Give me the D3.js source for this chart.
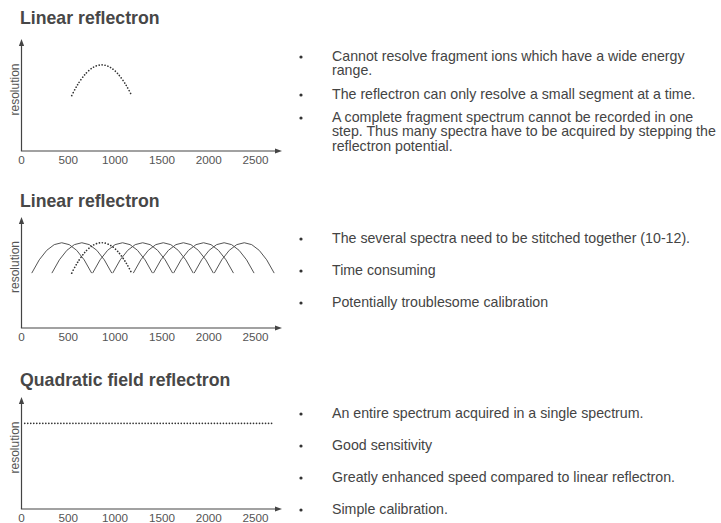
<!DOCTYPE html>
<html>
<head>
<meta charset="utf-8">
<script src="https://cdn.jsdelivr.net/npm/d3@7"></script>
<style>
  html, body { margin: 0; padding: 0; background: #fff; }
  svg { display: block; font-family: "Liberation Sans", Arial, Helvetica, sans-serif; }
</style>
</head>
<body>
<svg id="chart" width="721" height="523"></svg>
<script>
// ---- data ----------------------------------------------------------------
const panelTitles = ["Linear reflectron", "Linear reflectron", "Quadratic field reflectron"];
const xTicks = [0, 500, 1000, 1500, 2000, 2500];
const yLabel = "resolution";

// resolution profile of one reflectron setting (m/z window)
const resolutionBase = 56;
const resolutionPeak = 87;
const singleWindow = [542, 1182];
// stepped reflectron potential: successive m/z windows
const steppedWindows = [
  [115, 755], [330, 970], [765, 1405], [980, 1620], [1200, 1840],
  [1415, 2055], [1630, 2270], [1850, 2490], [2065, 2705]
];
// quadratic field: flat resolution over the whole range
const quadraticRange = [40, 2700];
const quadraticResolution = 86.5;

const bullets = [
  [
    ["Cannot resolve fragment ions which have a wide energy", "range."],
    ["The reflectron can only resolve a small segment at a time."],
    ["A complete fragment spectrum cannot be recorded in one",
     "step. Thus many spectra have to be acquired by stepping the",
     "reflectron potential."]
  ],
  [
    ["The several spectra need to be stitched together (10-12)."],
    ["Time consuming"],
    ["Potentially troublesome calibration"]
  ],
  [
    ["An entire spectrum acquired in a single spectrum."],
    ["Good sensitivity"],
    ["Greatly enhanced speed compared to linear reflectron."],
    ["Simple calibration."]
  ]
];

// ---- layout --------------------------------------------------------------
const panels = [
  { titleY: 24,  top: 40,  bottom: 151, bulletY: [56, 94, 117] },
  { titleY: 207, top: 218, bottom: 328, bulletY: [238, 270, 302] },
  { titleY: 386, top: 398, bottom: 509, bulletY: [413, 445, 477, 509] }
];
const axisX = 21.5, axisEndX = 282;
const textColor = "#444";
const lineColor = "#444";

const svg = d3.select("#chart");
const x = d3.scaleLinear().domain([0, 2500]).range([21, 255]);

function archPath(win, y) {
  const p = d3.path();
  const x0 = x(win[0]), x1 = x(win[1]);
  const yb = y(resolutionBase), yp = y(resolutionPeak);
  p.moveTo(x0, yb);
  p.quadraticCurveTo((x0 + x1) / 2, 2 * yp - yb, x1, yb);
  return p.toString();
}

panels.forEach((pn, i) => {
  const g = svg.append("g");
  const y = d3.scaleLinear().domain([0, 100]).range([pn.bottom, pn.top + 12]);

  // title
  g.append("text")
    .attr("x", 20).attr("y", pn.titleY)
    .attr("font-size", 17.7).attr("font-weight", "bold")
    .attr("fill", "#474747")
    .text(panelTitles[i]);

  // x tick labels
  const ax = d3.axisBottom(x).tickValues(xTicks).tickSize(0).tickPadding(5)
    .tickFormat(d3.format("d"));
  const axg = g.append("g").attr("transform", `translate(0,${pn.bottom})`).call(ax);
  axg.select(".domain").remove();
  axg.selectAll("text").attr("font-size", 11.7).attr("fill", "#555")
    .attr("font-family", "Liberation Sans, Arial, sans-serif");

  // axes lines with arrows
  g.append("line").attr("x1", axisX).attr("x2", axisX)
    .attr("y1", pn.bottom).attr("y2", pn.top + 4)
    .attr("stroke", lineColor).attr("stroke-width", 1.2);
  g.append("path")
    .attr("d", `M${axisX},${pn.top - 1}L${axisX - 2.6},${pn.top + 6}L${axisX + 2.6},${pn.top + 6}Z`)
    .attr("fill", lineColor);
  g.append("line").attr("x1", axisX - 0.6).attr("x2", axisEndX - 4)
    .attr("y1", pn.bottom).attr("y2", pn.bottom)
    .attr("stroke", lineColor).attr("stroke-width", 1.2);
  g.append("path")
    .attr("d", `M${axisEndX},${pn.bottom}L${axisEndX - 7},${pn.bottom - 2.6}L${axisEndX - 7},${pn.bottom + 2.6}Z`)
    .attr("fill", lineColor);

  // y label
  g.append("text")
    .attr("transform", `translate(18.5,${(pn.top + pn.bottom) / 2 - 6}) rotate(-90)`)
    .attr("text-anchor", "middle")
    .attr("font-size", 12).attr("fill", "#555")
    .text(yLabel);

  const dotted = sel => sel
    .attr("fill", "none").attr("stroke", "#333")
    .attr("stroke-width", 1.7).attr("stroke-linecap", "round")
    .attr("stroke-dasharray", "0.01 3");

  if (i === 1) {
    g.selectAll("path.arch").data(steppedWindows).join("path")
      .attr("class", "arch")
      .attr("d", w => archPath(w, y))
      .attr("fill", "none").attr("stroke", "#555").attr("stroke-width", 1);
  }
  if (i < 2) {
    g.append("path").attr("d", archPath(singleWindow, y)).call(dotted);
  } else {
    g.append("path")
      .attr("d", d3.line()([[x(quadraticRange[0]), y(quadraticResolution)],
                            [x(quadraticRange[1]), y(quadraticResolution)]]))
      .call(dotted);
  }

  // bullet list
  bullets[i].forEach((lines, k) => {
    const by = pn.bulletY[k];
    g.append("circle").attr("cx", 301).attr("cy", by + 1).attr("r", 1.6).attr("fill", "#333");
    const t = g.append("text").attr("x", 332).attr("y", by)
      .attr("font-size", 14.2).attr("fill", textColor);
    lines.forEach((ln, j) => {
      t.append("tspan").attr("x", 332).attr("dy", j === 0 ? "0.35em" : "14.5px").text(ln);
    });
  });
});
</script>
</body>
</html>
